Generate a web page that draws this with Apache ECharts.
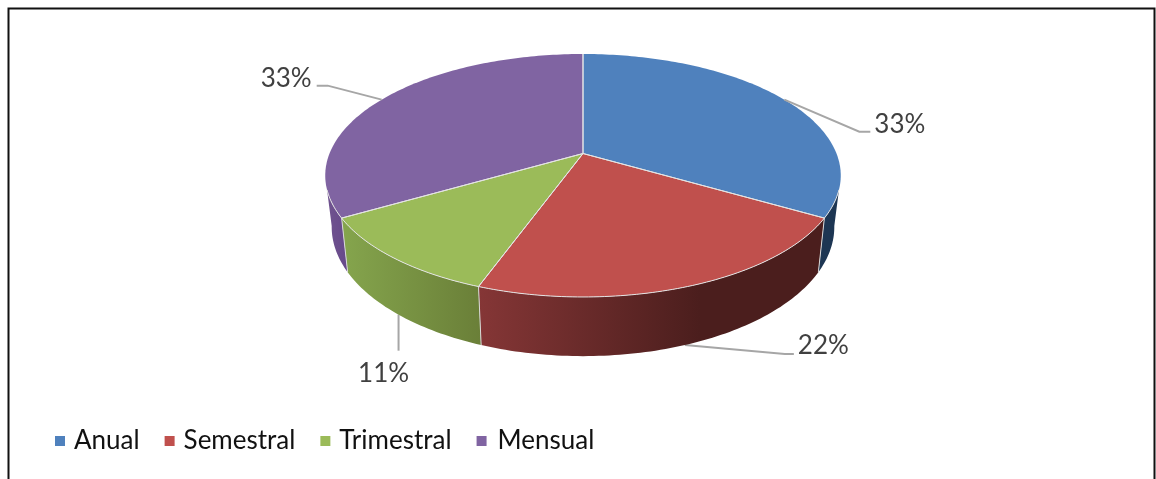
<!DOCTYPE html>
<html><head><meta charset="utf-8">
<style>html,body{margin:0;padding:0;background:#fff}#c{width:1156px;height:479px}</style>
<script src="https://cdn.jsdelivr.net/npm/echarts@6/dist/echarts.min.js"></script>
</head><body><div id="c"></div>
<script>
const categories = ['Anual', 'Semestral', 'Trimestral', 'Mensual'];
const values = [3, 2, 1, 3];
const colors = ['#4f81bd', '#c0504d', '#9bbb59', '#8064a2'];
const wallStops = [['#1d3653', '#1d3653'], ['#853636', '#4b1e1d'], ['#85a54d', '#6a7f38'], ['#70538f', '#66498a']];

// projection of the disc: apex, half axes, perspective factor
const P = { cx: 583, topY: 153.5, a: 253.5, b: 117.5, k: 0.181, botY: 203.5, botS: 0.975, botB: 125 };
// where the wall's outline leaves each rim, measured from the front-facing limit
const SIL = { topFrom: 107, botFrom: 100 };
const labelFont = '26px Lato';
// leader elbows and text offsets relative to the rim anchor
const leaders = [
  { onWall: false, pts: [[75, 32], [86, 32]], text: [90, 25], align: 'left' },
  { onWall: true,  pts: [[100, 9], [109, 9]], text: [113, 1], align: 'left' },
  { onWall: true,  pts: [[0, 36]],            text: [-15, 59], align: 'center' },
  { onWall: false, pts: [[-54, -14], [-65, -14]], text: [-70, -21], align: 'right' }
];
const legendLeftPad = [4, 4, 4, 6];

const total = values.reduce((s, v) => s + v, 0);
const rad = d => d * Math.PI / 180;
function rimTop(th) {
  const t = rad(th), d = 1 + P.k * Math.cos(t);
  return [P.cx + P.a * Math.sin(t) / d, P.topY - P.b * Math.cos(t) / d];
}
function rimBot(th) {
  const t = rad(th), d = 1 + P.k * Math.cos(t);
  return [P.cx + P.botS * P.a * Math.sin(t) / d, P.botY - P.botB * Math.cos(t) / d];
}
function arc(fn, a, b) {
  const n = Math.max(2, Math.ceil(Math.abs(b - a))), out = [];
  for (let i = 0; i <= n; i++) out.push(fn(a + (b - a) * i / n));
  return out;
}

function renderSlice(idx) {
  return function (params, api) {
    const v = api.value(0);
    const before = values.slice(0, idx).reduce((s, x) => s + x, 0);
    const a0 = before / total * 360, a1 = a0 + v / total * 360, mid = (a0 + a1) / 2;
    const children = [];
    const seamStroke = { stroke: '#e4e4e4', lineWidth: 1, fill: 'none' };
    // side wall: only the part facing the viewer
    if (a1 > 90 && a0 < 270) {
      const tt0 = Math.max(a0, SIL.topFrom), tt1 = Math.min(a1, 360 - SIL.topFrom);
      const bb0 = Math.max(a0, SIL.botFrom), bb1 = Math.min(a1, 360 - SIL.botFrom);
      const topArc = arc(rimTop, tt0, tt1), botArc = arc(rimBot, bb0, bb1).reverse();
      children.push({
        type: 'polygon', z2: 1,
        shape: { points: topArc.concat(botArc) },
        style: {
          fill: { type: 'linear', x: 0, y: 0, x2: 1, y2: 0, colorStops: idx === 1
            ? [{ offset: 0, color: wallStops[idx][0] }, { offset: 0.64, color: wallStops[idx][1] }, { offset: 1, color: wallStops[idx][1] }]
            : [{ offset: 0, color: wallStops[idx][0] }, { offset: 1, color: wallStops[idx][1] }] }
        }
      });
      if (a1 < 270) children.push({
        type: 'polyline', z2: 2, shape: { points: [rimTop(a1), rimBot(a1)] },
        style: { stroke: '#d9d9d9', lineWidth: 1, fill: 'none' }
      });
    }
    // upper face
    children.push({
      type: 'polygon', z2: 5,
      shape: { points: arc(rimTop, a0, a1).concat([[P.cx, P.topY]]) },
      style: { fill: colors[idx] }
    });
    // light seams: the two radii and the front part of the rim
    children.push({
      type: 'polyline', z2: 6, shape: { points: [rimTop(a0), [P.cx, P.topY], rimTop(a1)] }, style: seamStroke
    });
    const r0 = Math.max(a0, SIL.topFrom), r1 = Math.min(a1, 360 - SIL.topFrom);
    if (r1 > r0) children.push({
      type: 'polyline', z2: 6, shape: { points: arc(rimTop, r0, r1) }, style: seamStroke
    });
    // leader and percentage
    const L = leaders[idx];
    const anchor = L.onWall ? rimBot(mid) : rimTop(mid);
    const pts = [anchor].concat(L.pts.map(p => [anchor[0] + p[0], anchor[1] + p[1]]));
    children.push({
      type: 'polyline', z2: L.onWall ? 0 : 8, shape: { points: pts },
      style: { stroke: '#a6a6a6', lineWidth: 2, fill: 'none' }
    });
    children.push({
      type: 'text', z2: 9,
      style: {
        text: Math.round(v / total * 100) + '%',
        x: anchor[0] + L.text[0], y: anchor[1] + L.text[1],
        align: L.align, verticalAlign: 'middle',
        font: labelFont, fill: '#404040'
      }
    });
    return { type: 'group', children };
  };
}

const chart = echarts.init(document.getElementById('c'), null, { renderer: 'canvas' });
chart.setOption({
  animation: false,
  backgroundColor: '#fff',
  legend: {
    data: categories.map((name, i) => ({
      name,
      textStyle: { padding: [0, 0, 0, legendLeftPad[i]] }
    })),
    left: 55, top: 428,
    padding: 0,
    icon: 'rect', itemWidth: 10, itemHeight: 10, itemGap: 25,
    selectedMode: false,
    textStyle: { fontFamily: 'Lato', fontSize: 26, color: '#111' }
  },
  graphic: [{
    type: 'rect', silent: true, z: -1,
    shape: { x: 8.5, y: 8.5, width: 1146, height: 490 },
    style: { fill: 'none', stroke: '#111', lineWidth: 2 }
  }],
  series: categories.map((name, i) => ({
    type: 'custom', name, coordinateSystem: 'none', silent: true,
    itemStyle: { color: colors[i] },
    renderItem: renderSlice(i),
    data: [[values[i]]]
  }))
});
</script></body></html>
